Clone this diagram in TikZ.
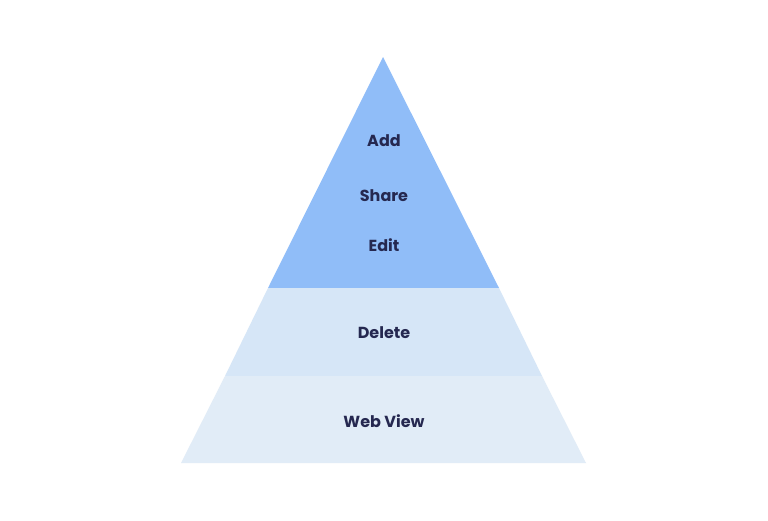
\documentclass[tikz,border=0pt]{standalone}
\usepackage{fontspec}
\setmainfont{Poppins}
\definecolor{topband}{HTML}{90BDF8}
\definecolor{midband}{HTML}{D6E6F7}
\definecolor{lowband}{HTML}{E1ECF7}
\definecolor{labelink}{HTML}{252850}
\tikzset{layer/.style={font=\fontsize{16}{18}\selectfont\bfseries,text=labelink}}
\begin{document}
\begin{tikzpicture}[x=1pt,y=-1pt]
    \useasboundingbox[fill=white] (0,0) rectangle (768,520);
    \coordinate (apex) at (383,57);
    \coordinate (tl) at (268,288);
    \coordinate (tr) at (499,288);
    \coordinate (ml) at (225,376);
    \coordinate (mr) at (542,376);
    \coordinate (bl) at (181,463);
    \coordinate (br) at (586,463);
    \fill[topband] (apex) -- (tr) -- (tl) -- cycle;
    \fill[midband] (tl) -- (tr) -- (mr) -- (ml) -- cycle;
    \fill[lowband] (ml) -- (mr) -- (br) -- (bl) -- cycle;
    \node[layer] (add) at (384,141) {Add};
    \node[layer] (share) at (384,196) {Share};
    \node[layer] (edit) at (384,245) {Edit};
    \node[layer] (delete) at (384,333) {Delete};
    \node[layer] (webview) at (384,421) {Web View};
  \end{tikzpicture}
\end{document}
